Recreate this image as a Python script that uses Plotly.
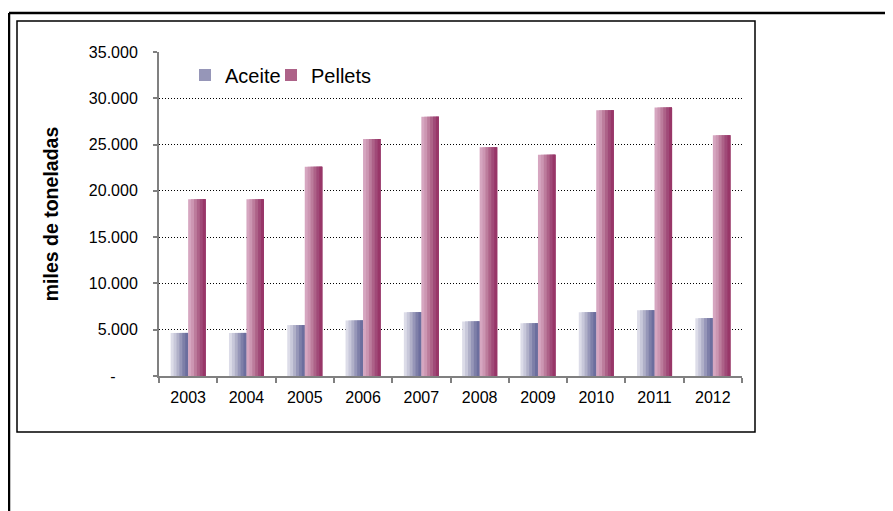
import plotly.graph_objects as go

# ---- data ----
years = ["2003", "2004", "2005", "2006", "2007", "2008", "2009", "2010", "2011", "2012"]
aceite = [4650, 4650, 5500, 6000, 6900, 5900, 5700, 6900, 7100, 6250]
pellets = [19100, 19100, 22600, 25600, 28000, 24700, 23900, 28700, 29000, 26000]
y_tick_vals = [0, 5000, 10000, 15000, 20000, 25000, 30000, 35000]
y_tick_text = ["-" + "\u00a0" * 5, "5.000", "10.000", "15.000", "20.000", "25.000", "30.000", "35.000"]

# ---- styling ----
W, H = 893, 511
OFF = 8  # page body margin
# plot area in screen pixels
PL, PR, PT, PB = 159, 742, 52, 376
ML, MT = PL - OFF, PT - OFF
MR, MB = W - (PR - OFF), H - (PB - OFF)
PW, PH = PR - PL, PB - PT

aceite_cols = ["#dcdce8", "#c8c8da", "#b0b0c8", "#9696b8", "#7e7fa8", "#6c6e9e"]
pellet_cols = ["#d6a6c0", "#cc96b2", "#bc7c9c", "#ad6288", "#a04a78", "#983668"]
BAR_W = 0.3
N = len(aceite_cols)
BW = BAR_W / N

fig = go.Figure()

def add_series(name, vals, cols, start, legend_id):
    for i, c in enumerate(cols):
        fig.add_trace(go.Bar(
            x=years, y=vals, name=name,
            offset=start + i * BW, width=BAR_W - i * BW,
            marker=dict(color=c, line=dict(width=0)),
            legendgroup=name, showlegend=(i == 3), legend=legend_id,
            hovertemplate=name + " %{x}: %{y:,}<extra></extra>",
        ))

add_series("Aceite", aceite, aceite_cols, -BAR_W, "legend")
add_series("Pellets", pellets, pellet_cols, 0.0, "legend2")

def px_x(p):  # screen px -> paper
    return (p - PL) / PW

def px_y(p):
    return (PB - p) / PH

shapes = [
    dict(type="line", xref="paper", yref="paper", x0=px_x(9), x1=px_x(910), y0=px_y(13), y1=px_y(13),
         line=dict(color="black", width=2.5)),
    dict(type="line", xref="paper", yref="paper", x0=px_x(9), x1=px_x(9), y0=px_y(13), y1=px_y(530),
         line=dict(color="black", width=2.5)),
    dict(type="rect", xref="paper", yref="paper", x0=px_x(17), x1=px_x(755), y0=px_y(432), y1=px_y(21),
         line=dict(color="black", width=1.5), fillcolor="rgba(0,0,0,0)"),
]

leg_common = dict(orientation="h", xanchor="left", yanchor="middle",
                  font=dict(size=20), bgcolor="rgba(0,0,0,0)", traceorder="normal")

fig.update_layout(
    width=W, height=H,
    margin=dict(l=ML, r=MR, t=MT, b=MB),
    paper_bgcolor="white", plot_bgcolor="white",
    font=dict(family="Arial, Liberation Sans, sans-serif", color="black", size=16),
    barmode="overlay",
    showlegend=True,
    legend=dict(x=px_x(185), y=px_y(75), **leg_common),
    legend2=dict(x=px_x(271), y=px_y(75), **leg_common),
    shapes=shapes,
    xaxis=dict(type="category", showline=True, linecolor="#808080", linewidth=2,
               ticks="outside", tickson="boundaries", ticklen=5, tickcolor="#808080", tickwidth=1.5,
               showgrid=False, tickfont=dict(size=16), ticklabelstandoff=6,
               range=[-0.5, len(years) - 0.5]),
    yaxis=dict(range=[0, 35000], tickvals=y_tick_vals, ticktext=y_tick_text,
               showline=True, linecolor="#808080", linewidth=2,
               ticks="outside", ticklen=4, tickcolor="#808080", tickwidth=1.5,
               showgrid=True, gridcolor="black", gridwidth=1, griddash="1px,2px",
               zeroline=False, tickfont=dict(size=16), ticklabelstandoff=12,
               title=dict(text="<b>miles de toneladas</b>", font=dict(size=19.5), standoff=25)),
)

fig.write_html("out.html")
